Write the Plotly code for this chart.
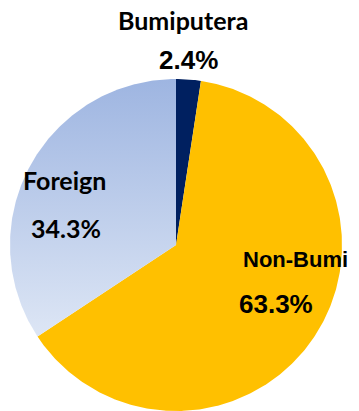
import numpy as np
import plotly.graph_objects as go

# Shareholding breakdown (%), drawn clockwise from 12 o'clock
categories = ["Bumiputera", "Non-Bumi", "Foreign"]
shares = [2.4, 63.3, 34.3]
share_labels = ["2.4%", "63.3%", "34.3%"]

W, H = 359, 411
CX, CY, R = 176, 166, 166  # pie centre and radius in axis units (1 unit = 1 px)

fills = {
    "Bumiputera": dict(fillcolor="#002060"),
    "Non-Bumi": dict(fillcolor="#FFC000"),
    "Foreign": dict(fillgradient=dict(type="vertical",
                                      colorscale=[[0, "#DDE6F5"], [1, "#9EB5E1"]])),
}

fig = go.Figure()
total = sum(shares)
start = 0.0
for name, val in zip(categories, shares):
    a0 = start / total * 2 * np.pi
    a1 = (start + val) / total * 2 * np.pi
    t = np.linspace(a0, a1, max(8, int(val * 6)))
    xs = np.concatenate([[CX], CX + R * np.sin(t), [CX]])
    ys = np.concatenate([[CY], CY + R * np.cos(t), [CY]])
    fig.add_trace(go.Scatter(x=xs, y=ys, mode="lines", fill="toself",
                             line=dict(width=0), hoverinfo="skip",
                             name=name, showlegend=False, **fills[name]))
    start += val

humanist = "Lato, Carlito, Calibri, sans-serif"
grotesk = "Liberation Sans, Arial, sans-serif"

# per-category label styling and positions (axis units): name, then percentage
label_style = {
    "Bumiputera": dict(name=((183, 391), humanist, 25), pct=((188, 351), grotesk, 26)),
    "Foreign": dict(name=((64, 231), humanist, 25), pct=((65.5, 183.5), humanist, 25)),
    "Non-Bumi": dict(name=((295.5, 151.5), grotesk, 22), pct=((276, 107), grotesk, 26)),
}
for name, pct in zip(categories, share_labels):
    st = label_style[name]
    for text, ((x, y), fam, size) in ((name, st["name"]), (pct, st["pct"])):
        fig.add_annotation(x=x, y=y, text=f"<b>{text}</b>", showarrow=False,
                           font=dict(family=fam, size=size, color="#000000"),
                           xanchor="center", yanchor="middle")

fig.update_xaxes(range=[0, W], visible=False, fixedrange=True)
fig.update_yaxes(range=[0, H], visible=False, fixedrange=True)
fig.update_layout(width=W, height=H, margin=dict(l=0, r=0, t=0, b=0),
                  paper_bgcolor="white", plot_bgcolor="white")

fig.write_html("out.html")
